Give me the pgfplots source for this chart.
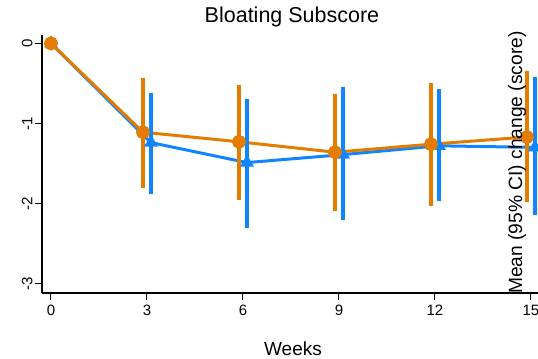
\documentclass[border=0pt]{standalone}
\usepackage{fontspec}
\setmainfont{Liberation Sans}
\usepackage{pgfplots}
\pgfplotsset{compat=1.18}
\usepackage{pgfplotstable}
\definecolor{cOrange}{RGB}{227,124,0}
\definecolor{cBlue}{RGB}{17,133,255}
\pgfplotstableread{
x y ep em
0.000 0.00 0 0
2.875 -1.11 0.63 0.65
5.875 -1.23 0.66 0.68
8.875 -1.36 0.68 0.69
11.875 -1.26 0.71 0.72
14.875 -1.17 0.78 0.76
}\orangedata
\pgfplotstableread{
x y ep em
0.000 0.00 0 0
3.125 -1.24 0.57 0.59
6.125 -1.49 0.75 0.77
9.125 -1.39 0.79 0.77
12.125 -1.28 0.66 0.64
15.125 -1.30 0.83 0.80
}\bluedata
\begin{document}
\begin{tikzpicture}
\begin{axis}[
  at={(42bp,66bp)}, anchor=south west,
  x=32bp, y=80bp,
  xmin=-0.28, xmax=15.22,
  ymin=-3.12, ymax=0.1,
  clip=false,
  axis x line*=bottom, axis y line*=left,
  axis line style={-, line width=1.1bp, black},
  xtick={0,3,6,9,12,15},
  ytick={-3,-2,-1,0},
  tick align=outside,
  major tick length=7bp,
  tick style={line width=1bp, black},
  /pgf/number format/assume math mode=true,
  ticklabel style={font=\fontsize{15bp}{18bp}\selectfont},
  xticklabel style={yshift=-2bp},
  yticklabel style={xshift=1bp, rotate=90, anchor=south},
  title={Bloating Subscore},
  title style={at={(axis description cs:0.504,1)}, anchor=base, yshift=7bp, font=\fontsize{21.5bp}{24bp}\selectfont},
  xlabel={Weeks},
  xlabel style={at={(axis description cs:0.506,0)}, anchor=base, yshift=-62bp, font=\fontsize{19bp}{22bp}\selectfont},
  ylabel={Mean (95\% CI) change (score)},
  ylabel style={at={(axis description cs:0.958,0.506)}, anchor=center, font=\fontsize{19.2bp}{22bp}\selectfont},
]
\addplot[cBlue, line width=3bp, mark=triangle*, mark size=5bp, mark options={solid}] table[x=x,y=y] {\bluedata};
\addplot[cOrange, line width=3bp, mark=*, mark size=5.5bp, mark options={solid}] table[x=x,y=y] {\orangedata};
\addplot[draw=none, mark=none, forget plot,
  error bars/.cd, y dir=both, y explicit,
  error bar style={cOrange, line width=4bp},
  error mark=-, error mark options={cOrange, line width=3.5bp, mark size=4bp}]
  table[x=x,y=y,y error plus=ep,y error minus=em] {\orangedata};
\addplot[draw=none, mark=none, forget plot,
  error bars/.cd, y dir=both, y explicit,
  error bar style={cBlue, line width=4bp},
  error mark=-, error mark options={cBlue, line width=3.5bp, mark size=4bp}]
  table[x=x,y=y,y error plus=ep,y error minus=em] {\bluedata};
\end{axis}
\pgfresetboundingbox
\path[use as bounding box] (0,0) rectangle (538bp,359bp);
\end{tikzpicture}
\end{document}
